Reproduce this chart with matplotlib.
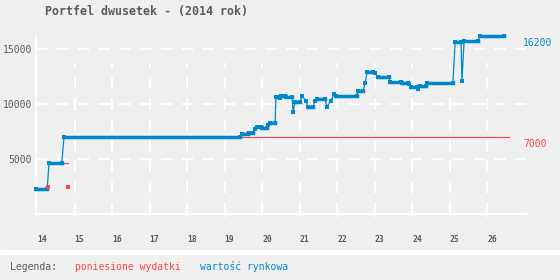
import matplotlib
matplotlib.use("Agg")
import matplotlib.pyplot as plt
import numpy as np

# tydzien roku / wartosc portfela
weeks = [13.97, 14.27, 14.32, 14.66, 14.72, 19.41, 19.47, 19.63, 19.65, 19.76,
         19.81, 19.87, 19.97, 20.00, 20.13, 20.16, 20.21, 20.35, 20.37, 20.43,
         20.48, 20.51, 20.61, 20.64, 20.80, 20.83, 20.88, 21.01, 21.07, 21.17,
         21.23, 21.36, 21.41, 21.47, 21.68, 21.73, 21.84, 21.92, 21.97, 22.53,
         22.56, 22.69, 22.75, 22.80, 22.96, 23.01, 23.09, 23.39, 23.41, 23.71,
         23.73, 23.89, 23.92, 23.97, 24.13, 24.16, 24.21, 24.37, 24.40, 25.09,
         25.15, 25.31, 25.33, 25.39, 25.76, 25.81, 26.45]
market = [2250, 2250, 4610, 4610, 7000, 7000, 7250, 7250, 7400, 7400,
          7700, 7880, 7880, 7800, 7800, 8100, 8250, 8250, 10600, 10600,
          10500, 10730, 10730, 10600, 10600, 9300, 10150, 10150, 10730, 10300,
          9700, 9700, 10300, 10430, 10430, 9750, 10300, 10880, 10730, 10730,
          11180, 11180, 11880, 12880, 12880, 12790, 12480, 12480, 11970, 11970,
          11880, 11880, 11790, 11550, 11550, 11340, 11640, 11640, 11880, 11880,
          15610, 15610, 12060, 15730, 15730, 16200, 16200]

# poniesione wydatki
cost_weeks = [14.29, 14.83, 14.83, 14.83, 26.58]
cost = [4650, 4650, np.nan, 7000, 7000]
cost_dot_weeks = [14.29, 14.82]
cost_dots = [2430, 2430]

xticks = list(range(14, 27))
yticks = [5000, 10000, 15000]

BLUE = "#0088cc"
RED = "#ff4444"
GRAY = "#5a5a5a"
BG = "#efefef"
W, H = 560, 280

plt.rcParams["font.family"] = "DejaVu Sans Mono"

fig = plt.figure(figsize=(5.6, 2.8), dpi=100, facecolor=BG)
ax = fig.add_axes([36 / W, 1 - 214 / H, (526 - 36) / W, (214 - 36) / H])
ax.set_facecolor(BG)
ax.set_xlim(13.973, 27.04)
ax.set_ylim(0, 16180)

for s in ["top", "right"]:
    ax.spines[s].set_visible(False)
for s in ["left", "bottom"]:
    ax.spines[s].set_color("white")
    ax.spines[s].set_linewidth(1.5)

# siatka
for v in yticks:
    ax.axhline(v, color="white", lw=1.5, dashes=(5.5, 4.5), zorder=1)
ax.vlines(xticks[1:], 0, 13700, color="white", lw=1.5, linestyles=(0, (5.5, 4.5)), zorder=1)

ax.set_xticks(xticks)
ax.set_xticklabels([str(t) for t in xticks], ha="left", fontsize=5.8,
                   fontweight="bold", color=GRAY)
ax.tick_params(axis="x", length=2.2, width=1.5, color="white", pad=13)
ax.set_yticks(yticks)
ax.set_yticklabels([str(t) for t in yticks], fontsize=7, color=GRAY)
ax.tick_params(axis="y", length=0, pad=3)

# wydatki
ax.plot(cost_weeks, cost, color=RED, lw=0.8, zorder=2, clip_on=False)
ax.plot(cost_dot_weeks, cost_dots, "s", color=RED, ms=2.2, mew=0, zorder=5)

# wartosc rynkowa
ax.plot(weeks, market, color=BLUE, lw=0.9, zorder=3, clip_on=False)
for i in range(len(weeks) - 1):
    if market[i] == market[i + 1]:
        ax.plot([weeks[i], weeks[i + 1]], [market[i], market[i]], color=BLUE,
                lw=2.5, solid_capstyle="projecting", zorder=3, clip_on=False)
ax.plot(weeks, market, "s", color=BLUE, ms=2.6, mew=0, zorder=4, clip_on=False)

fig.text(45 / W, 1 - 12 / H, "Portfel dwusetek - (2014 rok)", fontsize=8.4,
         fontweight="bold", color=GRAY, va="center")
fig.text(523 / W, 1 - 43 / H, str(market[-1]), fontsize=7, color=BLUE, va="center")
fig.text(523 / W, 1 - 144 / H, str(cost[-1]), fontsize=7, color=RED, va="center")

# legenda
fig.patches.append(plt.Rectangle((0, 1 - 254 / H), 1, 4 / H, transform=fig.transFigure,
                                 color="white", zorder=0))
fig.text(10 / W, 1 - 267 / H, "Legenda:", fontsize=7, color=GRAY, va="center")
fig.text(75 / W, 1 - 267 / H, "poniesione wydatki", fontsize=7, color=RED, va="center")
fig.text(200 / W, 1 - 267 / H, "wartość rynkowa", fontsize=7, color=BLUE, va="center")

fig.savefig("out.png", dpi=100, facecolor=BG)
